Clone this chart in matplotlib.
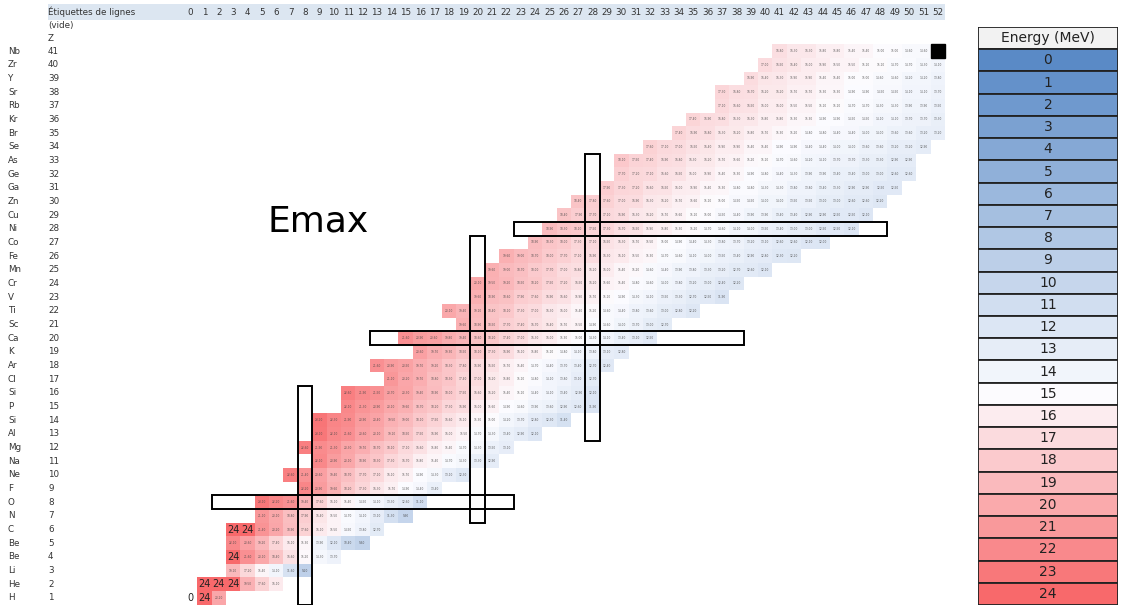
import numpy as np
import matplotlib.pyplot as plt
from matplotlib.colors import LinearSegmentedColormap, Normalize
from matplotlib.patches import Rectangle

# Row labels, Z = 1 .. 41
elements = ["H", "He", "Li", "Be", "Be", "C", "N", "O", "F", "Ne", "Na", "Mg", "Al", "Si",
            "P", "Si", "Cl", "Ar", "K", "Ca", "Sc", "Ti", "V", "Cr", "Mn", "Fe", "Co", "Ni",
            "Cu", "Zn", "Ga", "Ge", "As", "Se", "Br", "Kr", "Rb", "Sr", "Y", "Zr", "Nb"]
z_values = list(range(1, 42))
n_columns = list(range(0, 53))

# first neutron number filled in each row (Z = 1 .. 41)
first_n = [1, 1, 3, 3, 3, 3, 5, 5, 8, 7, 9, 8, 9, 9, 11, 11, 14, 13, 16, 15, 19,
           18, 20, 20, 21, 22, 24, 25, 26, 27, 29, 30, 30, 32, 34, 35, 37, 37, 39, 40, 41]

# Emax (MeV) per row, starting at first_n
emax = [
    [24, 20.2],
    [24, 24, 24, 19.5, 17.6, 16.1],
    [19.1, 17.2, 15.4, 14.1, 11.6, 9.2],
    [24, 21.6, 20.1, 18.4, 16.6, 15.2, 14.3, 13.7],
    [22.1, 20.6, 19.2, 17.4, 16.1, 15.3, 13.9, 12.1, 10.4, 9.6],
    [24, 24, 21.4, 20.2, 18.9, 17.6, 16.1, 15.5, 14.5, 13.8, 12.7],
    [21.1, 20.1, 18.8, 17.9, 16.4, 15.5, 14.7, 14.1, 13.1, 11.3, 9.9],
    [23.1, 22.2, 21.6, 19.4, 17.6, 16.1, 15.4, 14.5, 14.1, 13.3, 12.6, 11.1],
    [22.2, 20.9, 19.6, 18.2, 17.3, 16.3, 15.7, 14.9, 14.4, 13.4],
    [22.6, 21.4, 20.6, 19.4, 18.7, 17.7, 17.1, 16.1, 15.7, 14.9, 14.3, 13.1, 12.3],
    [22.1, 20.9, 20.1, 18.9, 18.3, 17.3, 16.7, 15.8, 15.4, 14.7, 14.3, 13.3, 12.9],
    [22.6, 21.9, 21.3, 20.3, 19.7, 18.7, 18.1, 17.1, 16.6, 15.8, 15.4, 14.7, 14.3, 13.5, 13.1],
    [23.1, 22.1, 21.6, 20.6, 20.1, 19.1, 18.5, 17.5, 16.9, 16.0, 15.5, 14.7, 14.3, 13.4, 12.9, 12.1],
    [23.2, 22.3, 21.9, 20.9, 20.4, 19.5, 19.0, 18.1, 17.5, 16.6, 16.1, 15.3, 15.0, 14.2,
     13.7, 12.8, 12.3, 11.4],
    [22.1, 21.3, 20.9, 20.1, 19.6, 18.7, 18.2, 17.3, 16.9, 16.0, 15.6, 14.9, 14.6, 13.9,
     13.6, 12.9, 12.6, 11.9],
    [22.6, 21.9, 21.5, 20.7, 20.3, 19.4, 18.9, 18.0, 17.5, 16.6, 16.2, 15.4, 15.1, 14.4,
     14.1, 13.4, 12.9, 12.1],
    [21.1, 20.2, 19.7, 18.8, 18.3, 17.4, 17.0, 16.2, 15.8, 15.1, 14.8, 14.1, 13.8, 13.1, 12.7],
    [21.6, 20.9, 20.5, 19.7, 19.2, 18.3, 17.8, 16.9, 16.5, 15.7, 15.4, 14.7, 14.4, 13.7,
     13.4, 12.7, 12.4],
    [20.6, 19.7, 19.3, 18.5, 18.1, 17.3, 16.9, 16.1, 15.8, 15.1, 14.8, 14.1, 13.8, 13.1, 12.8],
    [21.6, 20.9, 20.6, 19.8, 19.4, 18.6, 18.2, 17.4, 17.0, 16.3, 16.0, 15.3, 15.0, 14.3,
     14.1, 13.4, 13.1, 12.5],
    [19.6, 18.9, 18.5, 17.7, 17.4, 16.7, 16.4, 15.7, 15.5, 14.9, 14.6, 14.0, 13.7, 13.0, 12.7],
    [20.1, 19.4, 19.1, 18.4, 18.1, 17.3, 17.0, 16.3, 16.0, 15.4, 15.2, 14.6, 14.4, 13.8,
     13.6, 13.0, 12.8, 12.2],
    [19.6, 18.9, 18.6, 17.9, 17.6, 16.9, 16.6, 15.9, 15.7, 15.1, 14.9, 14.3, 14.1, 13.5,
     13.3, 12.7, 12.5, 11.9],
    [20.1, 19.5, 19.2, 18.5, 18.2, 17.5, 17.2, 16.5, 16.2, 15.6, 15.4, 14.8, 14.6, 14.0,
     13.8, 13.2, 13.0, 12.4, 12.2],
    [19.6, 19.0, 18.7, 18.0, 17.7, 17.0, 16.8, 16.2, 16.0, 15.4, 15.2, 14.6, 14.4, 13.9,
     13.8, 13.3, 13.2, 12.7, 12.6, 12.1],
    [19.6, 19.0, 18.7, 18.0, 17.7, 17.1, 16.9, 16.3, 16.1, 15.5, 15.3, 14.7, 14.6, 14.1,
     14.0, 13.5, 13.4, 12.9, 12.8, 12.3, 12.2],
    [18.9, 18.3, 18.0, 17.3, 17.1, 16.5, 16.3, 15.7, 15.5, 15.0, 14.9, 14.4, 14.3, 13.8,
     13.7, 13.2, 13.1, 12.6, 12.6, 12.1, 12.0],
    [18.9, 18.3, 18.1, 17.5, 17.3, 16.7, 16.5, 15.9, 15.8, 15.3, 15.2, 14.7, 14.6, 14.1,
     14.0, 13.5, 13.4, 13.0, 13.0, 12.5, 12.5, 12.1],
    [18.4, 17.9, 17.7, 17.1, 16.9, 16.3, 16.2, 15.7, 15.6, 15.1, 15.0, 14.5, 14.4, 13.9,
     13.9, 13.4, 13.4, 12.9, 12.9, 12.5, 12.5, 12.1],
    [18.4, 17.8, 17.6, 17.0, 16.9, 16.3, 16.2, 15.7, 15.6, 15.1, 15.0, 14.5, 14.5, 14.0,
     14.0, 13.5, 13.5, 13.0, 13.0, 12.6, 12.6, 12.2],
    [17.9, 17.3, 17.2, 16.6, 16.5, 16.0, 15.9, 15.4, 15.3, 14.8, 14.8, 14.3, 14.3, 13.8,
     13.8, 13.4, 13.3, 12.9, 12.9, 12.5, 12.5],
    [17.7, 17.2, 17.1, 16.6, 16.5, 16.0, 15.9, 15.4, 15.3, 14.9, 14.8, 14.4, 14.3, 13.9,
     13.9, 13.4, 13.4, 13.0, 13.0, 12.6, 12.6],
    [18.1, 17.5, 17.4, 16.9, 16.8, 16.3, 16.2, 15.7, 15.6, 15.2, 15.1, 14.7, 14.6, 14.2,
     14.1, 13.7, 13.7, 13.3, 13.3, 12.9, 12.9],
    [17.6, 17.1, 17.0, 16.5, 16.4, 15.9, 15.9, 15.4, 15.4, 14.9, 14.9, 14.4, 14.4, 14.0,
     14.0, 13.6, 13.6, 13.2, 13.2, 12.9],
    [17.4, 16.9, 16.8, 16.3, 16.2, 15.8, 15.7, 15.3, 15.2, 14.8, 14.8, 14.4, 14.4, 14.0,
     14.0, 13.6, 13.6, 13.2, 13.2],
    [17.4, 16.9, 16.8, 16.3, 16.3, 15.8, 15.8, 15.3, 15.3, 14.9, 14.9, 14.5, 14.5, 14.1,
     14.1, 13.7, 13.7, 13.3],
    [17.1, 16.6, 16.5, 16.0, 16.0, 15.5, 15.5, 15.1, 15.1, 14.7, 14.7, 14.3, 14.3, 13.9,
     13.9, 13.5],
    [17.3, 16.8, 16.7, 16.2, 16.2, 15.7, 15.7, 15.3, 15.3, 14.9, 14.9, 14.5, 14.5, 14.1,
     14.1, 13.7],
    [16.9, 16.4, 16.3, 15.9, 15.9, 15.4, 15.4, 15.0, 15.0, 14.6, 14.6, 14.2, 14.2, 13.8],
    [17.0, 16.5, 16.4, 16.0, 15.9, 15.5, 15.5, 15.1, 15.1, 14.7, 14.7, 14.3, 14.1],
    [16.8, 16.3, 16.3, 15.8, 15.8, 15.4, 15.4, 15.0, 15.0, 14.6, 14.6],
]
black_cells = [(52, 41)]
h_zero_label = (0, 1, "0")

# magic-number boxes: (n_lo, n_hi, z_lo, z_hi)
boxes = [(2, 22, 8, 8), (8, 8, 1, 16), (13, 38, 20, 20),
         (20, 20, 7, 27), (23, 48, 28, 28), (28, 28, 13, 33)]

legend_levels = list(range(0, 25))

cmap = LinearSegmentedColormap.from_list(
    "bwr_excel", [(0, "#5A8AC6"), (15 / 24, "#FCFCFF"), (1, "#F8696B")])
norm = Normalize(vmin=0, vmax=24)

grid = np.full((len(z_values), len(n_columns)), np.nan)
for z, n0, row in zip(z_values, first_n, emax):
    grid[z - 1, n0:n0 + len(row)] = row

fig = plt.figure(figsize=(11.22, 6.05), dpi=100)
ax = fig.add_axes([0, 0, 1, 1])
ax.set_xlim(-13.21, 64.81)
ax.set_ylim(0.488, 44.73)
ax.axis("off")

n_edges = np.arange(-0.5, 53.5, 1)
z_edges = np.arange(0.5, 42.5, 1)
ax.pcolormesh(n_edges, z_edges, np.ma.masked_invalid(grid), cmap=cmap, norm=norm)

for n, z in black_cells:
    ax.add_patch(Rectangle((n - 0.5, z - 0.5), 1, 1, color="black"))

# cell values: tiny decimals, capped cells show "24"
for z, n0, row in zip(z_values, first_n, emax):
    for i, v in enumerate(row):
        if v >= 24:
            ax.text(n0 + i, z, f"{v:.0f}", ha="center", va="center", fontsize=7, color="#222222")
        else:
            ax.text(n0 + i, z, f"{v:.2f}", ha="center", va="center", fontsize=2.1,
                    color="#444444", alpha=0.85)
ax.text(h_zero_label[0], h_zero_label[1], h_zero_label[2], ha="center", va="center",
        fontsize=7, color="#222222")

for n_lo, n_hi, z_lo, z_hi in boxes:
    ax.add_patch(Rectangle((n_lo - 0.5, z_lo - 0.5), n_hi - n_lo + 1, z_hi - z_lo + 1,
                           fill=False, edgecolor="black", lw=1.4, zorder=5))

# header band with column labels
ax.add_patch(Rectangle((-9.87, 43.27), 62.4, 1.17, color="#DCE6F1", lw=0))
ax.text(-9.87, 43.85, "Étiquettes de lignes", ha="left", va="center", fontsize=6.3, color="#333333")
for n in n_columns:
    ax.text(n, 43.85, str(n), ha="center", va="center", fontsize=6.3, color="#333333")
ax.text(-9.87, 42.83, "(vide)", ha="left", va="center", fontsize=6.3, color="#333333")
ax.text(-9.87, 41.95, "Z", ha="left", va="center", fontsize=6.3, color="#333333")

for z, sym in zip(z_values, elements):
    ax.text(-12.66, z, sym, ha="left", va="center", fontsize=6.3, color="#333333")
    ax.text(-9.87, z, str(z), ha="left", va="center", fontsize=6.3, color="#333333")

ax.text(8.9, 28.5, "Emax", ha="center", va="center", fontsize=26, color="black")

# energy scale table
lax = fig.add_axes([978 / 1122, 0, 140 / 1122, 578 / 605])
lax.set_xlim(0, 1)
lax.set_ylim(24.5, -1.5)
lax.axis("off")
lax.barh([-1], [1], height=1, left=0, color="#F2F2F2", edgecolor="#222222", lw=1.3)
lax.text(0.5, -1, "Energy (MeV)", ha="center", va="center", fontsize=10, color="#222222")
lax.barh(legend_levels, [1] * len(legend_levels), height=1, left=0,
         color=cmap(norm(np.array(legend_levels))), edgecolor="#222222", lw=1.3)
for lv in legend_levels:
    lax.text(0.5, lv, str(lv), ha="center", va="center", fontsize=10, color="#222222")

fig.savefig("out.png", dpi=100)
